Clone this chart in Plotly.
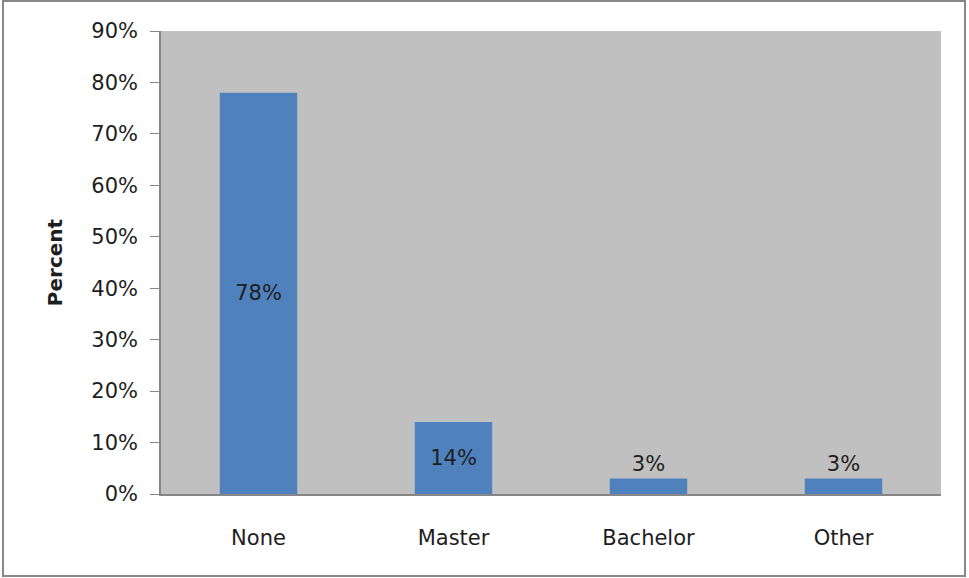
import plotly.graph_objects as go

categories = ["None", "Master", "Bachelor", "Other"]
values = [78, 14, 3, 3]
labels = ["78%", "14%", "3%", "3%"]
positions = ["inside", "inside", "outside", "outside"]
tick_vals = [0, 10, 20, 30, 40, 50, 60, 70, 80, 90]
tick_text = [f"{v}%" for v in tick_vals]

FONT = "DejaVu Sans, Verdana, sans-serif"

fig = go.Figure(go.Bar(
    x=categories, y=values, text=labels, textposition=positions,
    insidetextanchor="middle", textangle=0,
    textfont=dict(family=FONT, size=21, color="#1e1e1e"),
    marker=dict(color="#4F81BD", line=dict(width=0)),
    cliponaxis=False,
))

W, H = 969, 578
L, R, T, B = 161, 28, 31, 84
pw, ph = W - L - R, H - T - B

fig.update_layout(
    width=W, height=H,
    margin=dict(l=L, r=R, t=T, b=B),
    paper_bgcolor="white", plot_bgcolor="#C0C0C0",
    bargap=0.603, showlegend=False,
    font=dict(family=FONT, size=21, color="#1e1e1e"),
    xaxis=dict(showline=True, linecolor="#868686", linewidth=1.5, ticks="",
               tickfont=dict(size=21), showgrid=False, ticklabelstandoff=24),
    yaxis=dict(range=[0, 90], tickvals=tick_vals, ticktext=tick_text,
               showline=True, linecolor="#868686", linewidth=1.5,
               ticks="outside", ticklen=9, tickcolor="#868686", showgrid=False,
               tickfont=dict(size=21), zeroline=False, ticklabelstandoff=8,
               title=dict(text="<b>Percent</b>", font=dict(size=20), standoff=23)),
    shapes=[dict(type="rect", xref="paper", yref="paper",
                 x0=(3 - L) / pw, x1=(965 - L) / pw,
                 y0=(H - B - 576) / ph, y1=(H - B - 1) / ph,
                 line=dict(color="#888888", width=2), layer="below")],
)

fig.write_html("out.html")
